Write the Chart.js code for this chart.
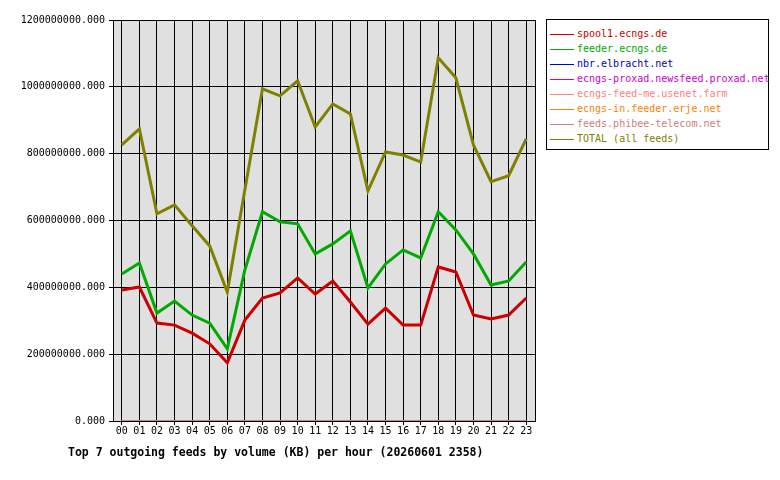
<!DOCTYPE html>
<html><head><meta charset="utf-8">
<script src="https://cdn.jsdelivr.net/npm/chart.js@4"></script>
<style>
body{margin:0;background:#fff;width:780px;height:480px;position:relative;overflow:hidden;font-family:"DejaVu Sans Mono",monospace}
#wrap{position:absolute;left:0;top:0;width:540px;height:480px}
#legend{position:absolute;left:546px;top:19px;width:223px;height:131px;border:1px solid #000;font-size:10px;box-sizing:border-box;padding-top:6px}
#legend div{height:15px;line-height:15px;white-space:nowrap}
#legend span.l{display:inline-block;width:24px;height:1px;vertical-align:middle;margin:0 3px 0 3px;position:relative}
#title{position:absolute;left:68px;top:445px;font-weight:bold;font-size:11.5px}
</style></head><body>
<div id="wrap"><canvas id="c"></canvas></div>
<div id="legend"></div>
<div id="title">Top 7 outgoing feeds by volume (KB) per hour (20260601 2358)</div>
<script>
const hours=["00","01","02","03","04","05","06","07","08","09","10","11","12","13","14","15","16","17","18","19","20","21","22","23"];
const seriesNames=["spool1.ecngs.de","feeder.ecngs.de","nbr.elbracht.net","ecngs-proxad.newsfeed.proxad.net","ecngs-feed-me.usenet.farm","ecngs-in.feeder.erje.net","feeds.phibee-telecom.net","TOTAL (all feeds)"];
const seriesColors=["#cc0000","#00aa00","#0000cc","#cc00cc","#ff8080","#ff8000","#cc8080","#808000"];
const spool1=[392,401,293,287,263,231,174,302,368,383,428,380,419,356,290,338,287,287,461,446,317,305,317,368].map(v=>v*1e6);
const feeder=[440,473,323,359,317,293,216,452,626,596,590,500,530,569,398,470,512,488,626,572,500,407,419,476].map(v=>v*1e6);
const zeros=[0,0,0,0,0,0,0,0,0,0,0,0,0,0,0,0,0,0,0,0,0,0,0,0];
const total=[826,874,620,647,584,524,386,692,994,973,1018,880,949,919,689,805,796,775,1087,1027,826,716,734,844].map(v=>v*1e6);
const seriesData=[spool1,feeder,zeros,zeros,zeros,zeros,zeros,total];

const lg=document.getElementById('legend');
seriesNames.forEach((n,i)=>{const d=document.createElement('div');d.style.color=seriesColors[i];
d.innerHTML='<span class="l" style="background:'+seriesColors[i]+'"></span>'+n;lg.appendChild(d);});

const bg={id:'bg',beforeDraw(c){const a=c.chartArea,x=c.ctx;x.save();x.fillStyle='#e0e0e0';x.fillRect(a.left,a.top,a.right-a.left,a.bottom-a.top);x.restore();},
afterDraw(c){const a=c.chartArea,x=c.ctx;x.save();x.strokeStyle='#000';x.lineWidth=1;x.strokeRect(a.left+0.5,a.top+0.5,a.right-a.left,a.bottom-a.top);x.restore();}};
new Chart(document.getElementById('c'),{type:'line',
data:{labels:hours,datasets:seriesNames.map((n,i)=>({label:n,data:seriesData[i],borderColor:seriesColors[i],borderWidth:i<2||i==7?3:2,pointRadius:0,tension:0,fill:false,order:7-i}))},
options:{responsive:true,maintainAspectRatio:false,animation:false,
layout:{padding:{top:20,right:5,left:0,bottom:0}},
plugins:{legend:{display:false},tooltip:{enabled:false}},
scales:{
x:{offset:true,grid:{offset:false,color:'#000',drawTicks:true,tickLength:4},border:{display:false},
ticks:{color:'#000',font:{family:'DejaVu Sans Mono',size:10},maxRotation:0,autoSkip:false,padding:0},
afterFit:s=>{s.height=59;}},
y:{min:0,max:1200000000,grid:{color:'#000',tickLength:4},border:{display:false},
ticks:{stepSize:200000000,color:'#000',font:{family:'DejaVu Sans Mono',size:10},padding:4,callback:v=>v.toFixed(3)},
afterFit:s=>{s.width=113;}}}},
plugins:[bg]});
</script></body></html>
